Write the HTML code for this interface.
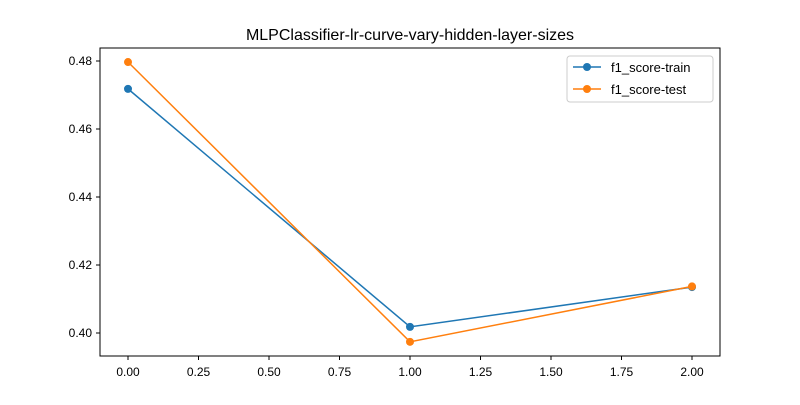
<!DOCTYPE html>
<html><head><meta charset="utf-8"><style>
body{margin:0;background:#fff;}
svg text{font-family:"Liberation Sans","DejaVu Sans",sans-serif;fill:#000;}
</style></head><body>
<svg id="chart" width="800" height="400">
<rect width="800" height="400" fill="#fff"/>
<text x="410" y="40" font-size="16" text-anchor="middle">MLPClassifier-lr-curve-vary-hidden-layer-sizes</text>
<g id="grid"></g>
<g id="marks"></g>
<rect x="100" y="48" width="620" height="308" fill="none" stroke="#000" stroke-width="1"/>
<g>
<rect x="567" y="56" width="146" height="46" rx="3" fill="#fff" stroke="#ccc"/>
<line x1="573" y1="67" x2="601" y2="67" stroke="#1f77b4" stroke-width="1.5"/><circle cx="587" cy="67" r="4" fill="#1f77b4"/>
<text x="611" y="72" font-size="13">f1_score-train</text>
<line x1="573" y1="89" x2="601" y2="89" stroke="#ff7f0e" stroke-width="1.5"/><circle cx="587" cy="89" r="4" fill="#ff7f0e"/>
<text x="611" y="94" font-size="13">f1_score-test</text>
</g>
</svg>
<script>
const xs=[0,1,2];
const trainVals=[0.4718,0.4018,0.4135];
const testVals=[0.4797,0.3974,0.4137];
const xTicks=[0,0.25,0.5,0.75,1,1.25,1.5,1.75,2];
const xTickLabels=["0.00","0.25","0.50","0.75","1.00","1.25","1.50","1.75","2.00"];
const yTicks=[0.40,0.42,0.44,0.46,0.48];
const yTickLabels=["0.40","0.42","0.44","0.46","0.48"];
const NS="http://www.w3.org/2000/svg";
const X=v=>128+v*282;
const Y=v=>333-(v-0.40)*3400;
const g=document.getElementById('grid'),m=document.getElementById('marks');
function mk(tag,attrs,parent){const e=document.createElementNS(NS,tag);for(const k in attrs)e.setAttribute(k,attrs[k]);parent.appendChild(e);return e;}
xTicks.forEach((t,i)=>{
 mk('line',{x1:X(t),x2:X(t),y1:356,y2:360,stroke:'#000'},g);
 const tx=mk('text',{x:X(t),y:376,'font-size':12,'text-anchor':'middle'},g);tx.textContent=xTickLabels[i];
 
 
});
yTicks.forEach((t,i)=>{
 mk('line',{x1:96,x2:100,y1:Y(t),y2:Y(t),stroke:'#000'},g);
 const tx=mk('text',{x:92,y:Y(t)+4,'font-size':12,'text-anchor':'end'},g);tx.textContent=yTickLabels[i];
 
 
});
[[trainVals,'#1f77b4','train'],[testVals,'#ff7f0e','test']].forEach(([vals,c,n])=>{
 const pl=mk('polyline',{points:xs.map((x,i)=>X(x)+','+Y(vals[i])).join(' '),fill:'none',stroke:c,'stroke-width':1.5},m);
 
 
 xs.forEach((x,i)=>{
  const p=mk('circle',{cx:X(x),cy:Y(vals[i]),r:4,fill:c},m);
  
  
 });
});
</script>
</body></html>
